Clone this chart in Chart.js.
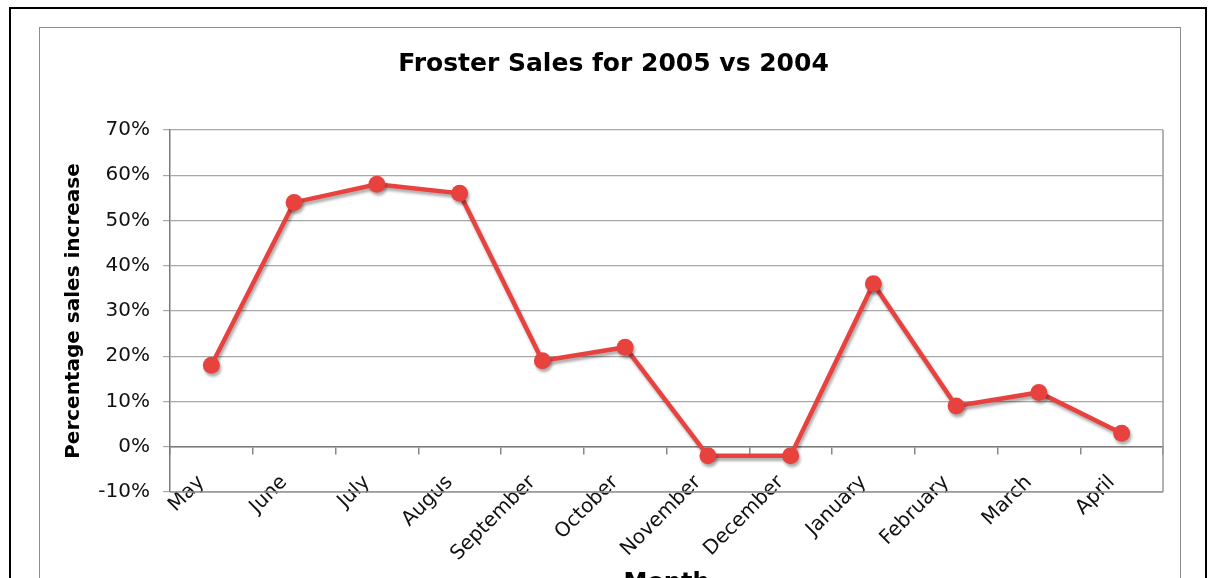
<!DOCTYPE html>
<html>
<head>
<meta charset="utf-8">
<script src="https://cdn.jsdelivr.net/npm/chart.js@4.4.1/dist/chart.umd.min.js"></script>
<style>
html,body{margin:0;padding:0;background:#fff;overflow:hidden;width:1209px;height:578px;}
#outer{position:absolute;left:9px;top:7px;width:1198px;height:700px;border:2px solid #000;box-sizing:border-box;}
#inner{position:absolute;left:39px;top:27px;width:1142px;height:700px;border:1.5px solid #8c8c8c;box-sizing:border-box;}
#c{position:absolute;left:0;top:0;}
</style>
</head>
<body>
<div id="outer"></div>
<div id="inner"></div>
<canvas id="c" width="1209" height="640"></canvas>
<script>
const months = ['May','June','July','Augus','September','October','November','December','January','February','March','April'];
const salesIncrease = [18, 54, 58, 56, 19, 22, -2, -2, 36, 9, 12, 3];
const yTicks = [-10, 0, 10, 20, 30, 40, 50, 60, 70];

const chartTitle = 'Froster Sales for 2005 vs 2004';
const yTitle = 'Percentage sales increase';
const xTitle = 'Month';

const shadowPlugin = {
  id: 'lineShadow',
  beforeDatasetDraw(chart) {
    const c = chart.ctx;
    c.save();
    c.shadowColor = 'rgba(0,0,0,0.33)';
    c.shadowBlur = 3;
    c.shadowOffsetX = 1.5;
    c.shadowOffsetY = 3;
  },
  afterDatasetDraw(chart) {
    chart.ctx.restore();
  }
};

const framePlugin = {
  id: 'plotFrame',
  beforeDatasetsDraw(chart) {
    const {ctx, chartArea: a} = chart;
    ctx.save();
    ctx.strokeStyle = '#999';
    ctx.lineWidth = 1.5;
    ctx.beginPath();
    ctx.moveTo(a.right, a.top);
    ctx.lineTo(a.right, a.bottom);
    ctx.moveTo(a.left, a.bottom);
    ctx.lineTo(a.right, a.bottom);
    ctx.stroke();
    ctx.restore();
  }
};

const FONT = 'DejaVu Sans, Verdana, sans-serif';

new Chart(document.getElementById('c'), {
  type: 'line',
  data: {
    labels: months,
    datasets: [{
      data: salesIncrease,
      borderColor: '#e8423f',
      backgroundColor: '#e8423f',
      borderWidth: 4.5,
      pointRadius: 8.5,
      pointHoverRadius: 8.5,
      pointBorderWidth: 0,
      tension: 0,
      fill: false
    }]
  },
  options: {
    responsive: false,
    animation: false,
    events: [],
    layout: { padding: { left: 52, right: 34, top: 0, bottom: 148 } },
    plugins: {
      legend: { display: false },
      tooltip: { enabled: false },
      title: {
        display: true,
        text: chartTitle,
        color: '#000',
        font: { family: FONT, size: 25, weight: 'bold' },
        padding: { top: 49, bottom: 51 }
      }
    },
    scales: {
      x: {
        type: 'category',
        position: { y: 0 },
        offset: true,
        grid: { offset: true, drawOnChartArea: false, drawTicks: true, tickLength: 7, color: '#888', lineWidth: 1.5 },
        border: { color: '#7a7a7a', width: 1.5 },
        ticks: { autoSkip: false, maxRotation: 45, minRotation: 45, padding: 17, labelOffset: -10, color: '#111', font: { family: FONT, size: 20 } },
        title: { display: true, text: xTitle, color: '#000', font: { family: FONT, size: 24, weight: 'bold' }, padding: { top: -14, bottom: 0 } }
      },
      y: {
        min: -10,
        max: 70,
        afterBuildTicks(scale) { scale.ticks = yTicks.map(v => ({ value: v })); },
        afterFit(scale) { scale.width = 118; },
        grid: { color: '#a8a8a8', lineWidth: 1.2, tickLength: 7, drawTicks: true },
        border: { color: '#7a7a7a', width: 1.5 },
        ticks: { padding: 13, color: '#111', font: { family: FONT, size: 20 }, callback: v => v + '%' },
        title: { display: true, text: yTitle, color: '#000', font: { family: FONT, size: 20, weight: 'bold' }, padding: { top: 10, bottom: 0 } }
      },
      yRight: {
        position: 'right',
        display: true,
        grid: { display: false, drawTicks: false },
        border: { display: false },
        ticks: { display: false },
        afterFit(scale) { scale.width = 12; }
      }
    }
  },
  plugins: [shadowPlugin, framePlugin]
});
</script>
</body>
</html>
